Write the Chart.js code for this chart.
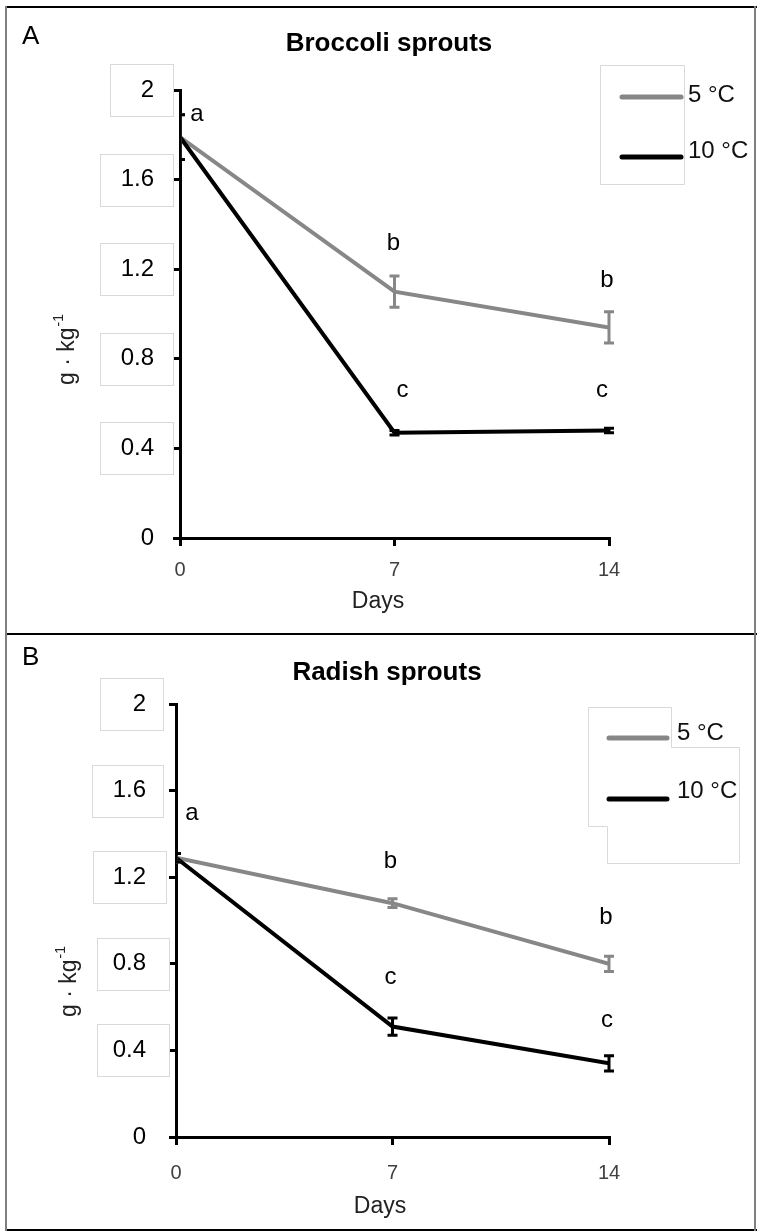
<!DOCTYPE html>
<html>
<head>
<meta charset="utf-8">
<script src="https://cdn.jsdelivr.net/npm/chart.js@4.4.1/dist/chart.umd.min.js"></script>
<style>
  html, body { margin: 0; padding: 0; background: #fff; }
  body { width: 757px; height: 1231px; position: relative; overflow: hidden; }
  canvas { position: absolute; left: 0; }
  #chart-a { top: 0; width: 757px; height: 634px; }
  #chart-b { top: 634px; width: 757px; height: 597px; }
  .line { position: absolute; }
</style>
</head>
<body>
<canvas id="chart-a" width="757" height="634"></canvas>
<canvas id="chart-b" width="757" height="597"></canvas>
<div class="line" style="left:5px;top:6px;width:752px;height:2px;background:#000"></div>
<div class="line" style="left:5px;top:633px;width:752px;height:2px;background:#000"></div>
<div class="line" style="left:5px;top:1229px;width:752px;height:2px;background:#000"></div>
<div class="line" style="left:5px;top:6px;width:2px;height:1225px;background:#7f7f7f"></div>
<div class="line" style="left:754px;top:6px;width:2px;height:1225px;background:#7f7f7f"></div>
<script>
const days = [0, 7, 14];
const seriesNames = ["5 °C", "10 °C"];
const yTicks = [0, 0.4, 0.8, 1.2, 1.6, 2];
const yTickLabels = ["0", "0.4", "0.8", "1.2", "1.6", "2"];
const xTickLabels = ["0", "7", "14"];

// Broccoli sprouts (panel A)
const broccoli5 = [1.79, 1.10, 0.94];
const broccoli5Err = [0.10, 0.07, 0.07];
const broccoli10 = [1.79, 0.47, 0.48];
const broccoli10Err = [0.10, 0.01, 0.01];
const broccoli5Letters = ["a", "b", "b"];
const broccoli10Letters = ["", "c", "c"];

// Radish sprouts (panel B)
const radish5 = [1.29, 1.08, 0.80];
const radish5Err = [0.02, 0.02, 0.035];
const radish10 = [1.29, 0.51, 0.34];
const radish10Err = [0.02, 0.04, 0.035];
const radish5Letters = ["a", "b", "b"];
const radish10Letters = ["", "c", "c"];

const FONT = "'Liberation Sans', Arial, sans-serif";
const GRAY = "#878787";
const BLACK = "#000000";

const panels = [
    {
        canvas: "chart-a", tag: "A", title: "Broccoli sprouts",
        s5: broccoli5, e5: broccoli5Err, s10: broccoli10, e10: broccoli10Err,
        l5: broccoli5Letters, l10: broccoli10Letters,
        top: 90, xAxisHeight: 96, yAxisWidth: 180, yPad: 19, xPad: 12,
        tagY: 37, titleX: 389, titleY: 44, yTitle: [68, 350], xTitle: [378, 602],
        legendShape: [[600, 65], [684, 65], [684, 184], [600, 184]],
        legendLine: [622, 681], legendY: [97, 157], legendText: [688, 95, 151],
        boxes: [[100, 173], [100, 173], [100, 173], [100, 173], [110, 173]],
        off5: [[17, 0], [-1, -33], [-2, -31]],
        off10: [null, [8, -40], [-7, -38]]
    },
    {
        canvas: "chart-b", tag: "B", title: "Radish sprouts",
        s5: radish5, e5: radish5Err, s10: radish10, e10: radish10Err,
        l5: radish5Letters, l10: radish10Letters,
        top: 70, xAxisHeight: 94, yAxisWidth: 176, yPad: 23, xPad: 16,
        tagY: 24, titleX: 387, titleY: 39, yTitle: [70, 348], xTitle: [380, 573],
        legendShape: [[588, 73], [671, 73], [671, 113], [739, 113], [739, 229], [607, 229], [607, 192], [588, 192]],
        legendLine: [609, 667], legendY: [104, 165], legendText: [677, 99, 157],
        boxes: [[97, 169], [97, 169], [93, 166], [92, 163], [100, 163]],
        off5: [[16, -40], [-2, -37], [-3, -39]],
        off10: [null, [-2, -41], [-2, -35]]
    }
];

function drawErrorBars(ctx, chart, values, errs, color) {
    const xs = chart.scales.x;
    const ys = chart.scales.y;
    ctx.strokeStyle = color;
    ctx.lineWidth = 3;
    values.forEach((v, i) => {
        const x = xs.getPixelForValue(days[i]);
        const hi = ys.getPixelForValue(v + errs[i]);
        const lo = ys.getPixelForValue(v - errs[i]);
        ctx.beginPath();
        ctx.moveTo(x, hi); ctx.lineTo(x, lo);
        ctx.moveTo(x - 5, hi); ctx.lineTo(x + 5, hi);
        ctx.moveTo(x - 5, lo); ctx.lineTo(x + 5, lo);
        ctx.stroke();
    });
}

function drawLetters(ctx, chart, values, errs, letters, offsets) {
    const xs = chart.scales.x;
    const ys = chart.scales.y;
    ctx.fillStyle = "#000";
    ctx.font = "24px " + FONT;
    ctx.textAlign = "center";
    ctx.textBaseline = "middle";
    letters.forEach((t, i) => {
        if (!t) return;
        const x = xs.getPixelForValue(days[i]) + offsets[i][0];
        const y = ys.getPixelForValue(values[i] + errs[i]) + offsets[i][1];
        ctx.fillText(t, x, y);
    });
}

function decorPlugin(p) {
    return {
        id: "decor",
        afterDatasetsDraw(chart) {
            const ctx = chart.ctx;
            const area = chart.chartArea;
            ctx.save();
            ctx.beginPath();
            ctx.rect(area.left, area.top - 10, area.right - area.left + 10, area.bottom - area.top + 10);
            ctx.clip();
            drawErrorBars(ctx, chart, p.s5, p.e5, GRAY);
            drawErrorBars(ctx, chart, p.s10, p.e10, BLACK);
            ctx.restore();
        },
        afterDraw(chart) {
            const ctx = chart.ctx;
            const ys = chart.scales.y;
            ctx.save();

            drawLetters(ctx, chart, p.s5, p.e5, p.l5, p.off5);
            drawLetters(ctx, chart, p.s10, p.e10, p.l10, p.off10);

            // light boxes around the tick labels
            ctx.strokeStyle = "#d9d9d9";
            ctx.lineWidth = 1;
            p.boxes.forEach((b, i) => {
                const y = Math.round(ys.getPixelForValue(yTicks[i + 1]));
                ctx.strokeRect(b[0] + 0.5, y - 26 + 0.5, b[1] - b[0], 52);
            });

            // legend
            ctx.beginPath();
            p.legendShape.forEach((pt, i) => {
                if (i === 0) ctx.moveTo(pt[0] + 0.5, pt[1] + 0.5);
                else ctx.lineTo(pt[0] + 0.5, pt[1] + 0.5);
            });
            ctx.closePath();
            ctx.stroke();
            ctx.lineWidth = 5;
            ctx.lineCap = "round";
            [GRAY, BLACK].forEach((c, i) => {
                ctx.strokeStyle = c;
                ctx.beginPath();
                ctx.moveTo(p.legendLine[0], p.legendY[i]);
                ctx.lineTo(p.legendLine[1], p.legendY[i]);
                ctx.stroke();
            });
            ctx.fillStyle = "#111";
            ctx.font = "24px " + FONT;
            ctx.textAlign = "left";
            ctx.textBaseline = "middle";
            ctx.fillText(seriesNames[0], p.legendText[0], p.legendText[1]);
            ctx.fillText(seriesNames[1], p.legendText[0], p.legendText[2]);

            // panel tag and title
            ctx.fillStyle = "#000";
            ctx.font = "26px " + FONT;
            ctx.fillText(p.tag, 22, p.tagY);
            ctx.font = "bold 26px " + FONT;
            ctx.textAlign = "center";
            ctx.fillText(p.title, p.titleX, p.titleY);

            // axis titles
            ctx.fillStyle = "#222";
            ctx.font = "23px " + FONT;
            ctx.fillText("Days", p.xTitle[0], p.xTitle[1]);

            ctx.translate(p.yTitle[0], p.yTitle[1]);
            ctx.rotate(-Math.PI / 2);
            const main = "g · kg";
            const sup = "-1";
            const wMain = ctx.measureText(main).width;
            ctx.font = "14px " + FONT;
            const wSup = ctx.measureText(sup).width;
            const start = -(wMain + wSup) / 2;
            ctx.textAlign = "left";
            ctx.font = "23px " + FONT;
            ctx.fillText(main, start, 0);
            ctx.font = "14px " + FONT;
            ctx.fillText(sup, start + wMain + 1, -9);
            ctx.restore();
        }
    };
}

function makePanel(p) {
    const canvas = document.getElementById(p.canvas);
    return new Chart(canvas, {
        type: "line",
        data: {
            datasets: [
                {
                    label: seriesNames[0],
                    data: days.map((d, i) => ({ x: d, y: p.s5[i] })),
                    borderColor: GRAY,
                    borderWidth: 4,
                    pointRadius: 0,
                    tension: 0,
                    order: 2
                },
                {
                    label: seriesNames[1],
                    data: days.map((d, i) => ({ x: d, y: p.s10[i] })),
                    borderColor: BLACK,
                    borderWidth: 4,
                    pointRadius: 0,
                    tension: 0,
                    order: 1
                }
            ]
        },
        options: {
            responsive: false,
            animation: false,
            devicePixelRatio: 1,
            layout: { padding: { left: 0, right: 148, top: p.top, bottom: 0 } },
            plugins: { legend: { display: false }, tooltip: { enabled: false }, title: { display: false } },
            scales: {
                x: {
                    type: "linear",
                    min: 0,
                    max: 14,
                    afterBuildTicks: s => { s.ticks = days.map(v => ({ value: v })); },
                    afterFit: s => { s.height = p.xAxisHeight; },
                    grid: { drawOnChartArea: false, drawTicks: true, tickLength: 8, color: "#000", lineWidth: 3 },
                    border: { color: "#000", width: 3 },
                    ticks: {
                        font: { size: 20, family: FONT },
                        color: "#404040",
                        padding: p.xPad,
                        maxRotation: 0,
                        autoSkip: false,
                        callback: (v, i) => xTickLabels[i]
                    }
                },
                y: {
                    min: 0,
                    max: 2,
                    afterBuildTicks: s => { s.ticks = yTicks.map(v => ({ value: v })); },
                    afterFit: s => { s.width = p.yAxisWidth; },
                    grid: { drawOnChartArea: false, drawTicks: true, tickLength: 7, color: "#000", lineWidth: 3 },
                    border: { color: "#000", width: 3 },
                    ticks: {
                        font: { size: 24, family: FONT },
                        color: "#000",
                        padding: p.yPad,
                        autoSkip: false,
                        callback: (v, i) => yTickLabels[i]
                    }
                }
            }
        },
        plugins: [decorPlugin(p)]
    });
}

panels.forEach(makePanel);
</script>
</body>
</html>
